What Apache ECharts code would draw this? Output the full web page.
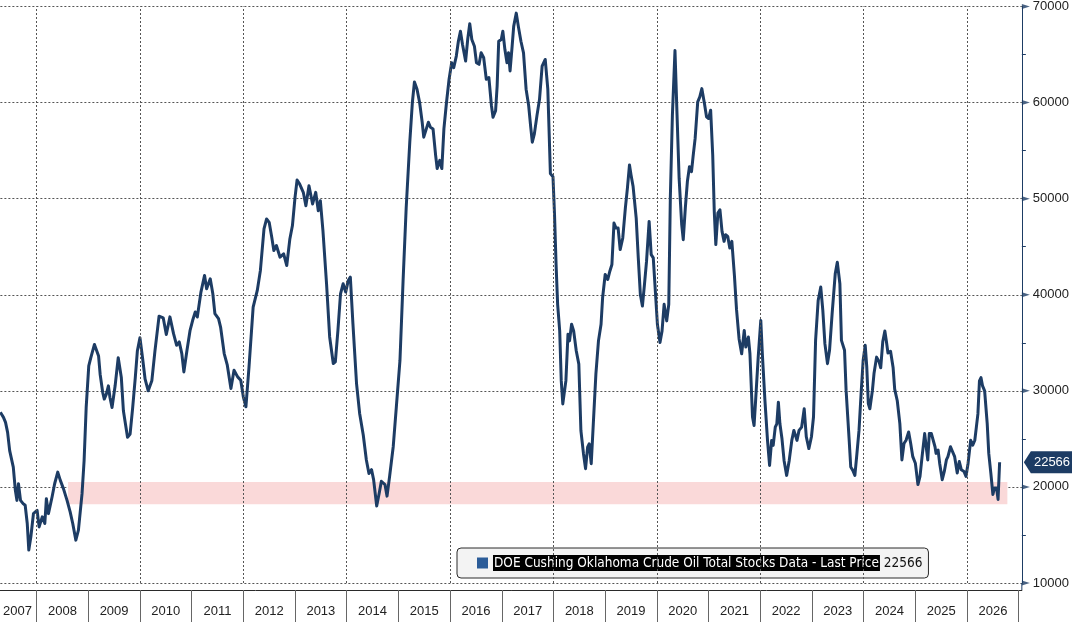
<!DOCTYPE html>
<html>
<head>
<meta charset="utf-8">
<script src="https://cdn.jsdelivr.net/npm/echarts@6/dist/echarts.min.js"></script>
<style>
html,body{margin:0;padding:0;background:#fff;}
#c{width:1072px;height:622px;}
</style>
</head>
<body>
<div id="c"></div>
<script>
// ---- data (decimal year, thousand barrels) ----
const dates = [
2007.30,2007.36,2007.40,2007.44,2007.48,2007.55,2007.59,2007.62,2007.65,2007.69,2007.74,2007.78,2007.82,2007.85,2007.89,2007.94,
2008.01,2008.05,2008.11,2008.16,2008.19,2008.23,2008.30,2008.35,2008.41,2008.46,2008.52,2008.59,2008.65,2008.70,2008.76,2008.81,2008.88,2008.92,2008.96,
2009.01,2009.05,2009.12,2009.20,2009.23,2009.28,2009.31,2009.35,2009.39,2009.42,2009.46,2009.52,2009.58,2009.64,2009.68,2009.71,2009.76,2009.81,2009.86,2009.91,2009.95,
2010.00,2010.05,2010.10,2010.16,2010.23,2010.29,2010.37,2010.45,2010.51,2010.58,2010.65,2010.71,2010.76,2010.81,2010.85,2010.91,2010.97,
2011.02,2011.07,2011.11,2011.18,2011.25,2011.29,2011.36,2011.41,2011.45,2011.52,2011.56,2011.63,2011.69,2011.76,2011.82,2011.89,2011.95,
2012.00,2012.05,2012.11,2012.19,2012.27,2012.33,2012.40,2012.45,2012.50,2012.55,2012.59,2012.64,2012.71,2012.78,2012.84,2012.90,2012.95,
2013.00,2013.04,2013.09,2013.16,2013.21,2013.27,2013.34,2013.40,2013.45,2013.49,2013.54,2013.61,2013.67,2013.74,2013.78,2013.83,2013.88,2013.93,2013.98,
2014.03,2014.07,2014.12,2014.19,2014.25,2014.32,2014.38,2014.43,2014.48,2014.52,2014.58,2014.63,2014.67,2014.74,2014.78,2014.83,2014.90,2014.96,
2015.03,2015.09,2015.15,2015.22,2015.27,2015.31,2015.36,2015.41,2015.46,2015.49,2015.54,2015.58,2015.62,2015.67,2015.72,2015.75,2015.80,2015.84,2015.88,2015.93,2015.98,
2016.03,2016.07,2016.12,2016.16,2016.20,2016.24,2016.27,2016.30,2016.34,2016.38,2016.42,2016.47,2016.51,2016.56,2016.60,2016.65,2016.70,2016.75,2016.80,2016.83,2016.88,2016.91,2016.94,2016.99,
2017.02,2017.06,2017.10,2017.13,2017.16,2017.20,2017.23,2017.28,2017.32,2017.37,2017.42,2017.47,2017.52,2017.56,2017.59,2017.63,2017.68,2017.73,2017.78,2017.84,2017.89,2017.94,2017.99,
2018.02,2018.05,2018.08,2018.12,2018.15,2018.18,2018.21,2018.24,2018.28,2018.31,2018.35,2018.39,2018.44,2018.49,2018.53,2018.58,2018.62,2018.66,2018.69,2018.73,2018.77,2018.82,2018.87,2018.92,2018.95,
2019.00,2019.05,2019.09,2019.13,2019.17,2019.21,2019.25,2019.29,2019.34,2019.39,2019.43,2019.47,2019.50,2019.54,2019.60,2019.64,2019.68,2019.72,2019.76,2019.80,2019.85,2019.89,2019.93,2019.97,
2020.01,2020.06,2020.10,2020.14,2020.19,2020.23,2020.26,2020.30,2020.35,2020.39,2020.43,2020.48,2020.51,2020.55,2020.59,2020.63,2020.67,2020.70,2020.74,2020.79,2020.83,2020.87,2020.92,2020.96,
2021.00,2021.04,2021.08,2021.11,2021.14,2021.18,2021.22,2021.26,2021.30,2021.33,2021.37,2021.41,2021.45,2021.50,2021.54,2021.59,2021.64,2021.69,2021.72,2021.77,2021.80,2021.85,2021.88,2021.91,2021.96,
2022.01,2022.04,2022.09,2022.14,2022.18,2022.22,2022.25,2022.29,2022.32,2022.35,2022.38,2022.42,2022.46,2022.51,2022.56,2022.61,2022.65,2022.71,2022.75,2022.80,2022.85,2022.89,2022.94,2022.99,
2023.03,2023.07,2023.12,2023.17,2023.21,2023.25,2023.30,2023.34,2023.39,2023.45,2023.49,2023.54,2023.57,2023.63,2023.66,2023.72,2023.75,2023.79,2023.83,2023.87,2023.91,2023.95,2023.99,
2024.03,2024.06,2024.09,2024.12,2024.17,2024.20,2024.25,2024.30,2024.33,2024.37,2024.41,2024.44,2024.47,2024.52,2024.57,2024.60,2024.65,2024.70,2024.74,2024.78,2024.82,2024.87,2024.91,2024.95,
2025.00,2025.05,2025.09,2025.13,2025.18,2025.21,2025.24,2025.27,2025.31,2025.34,2025.38,2025.40,2025.44,2025.47,2025.52,2025.56,2025.60,2025.63,2025.68,2025.72,2025.76,2025.81,2025.85,2025.89,2025.94,2025.98,
2026.02,2026.07,2026.11,2026.15,2026.18,2026.21,2026.24,2026.27,2026.30,2026.34,2026.39,2026.42,2026.46,2026.50,2026.53,2026.57,2026.60,2026.63
];
const stocks = [
27760,27240,26720,25680,23780,22060,19640,18600,20330,18600,18260,18090,16190,13430,14810,17220,
17570,15840,16880,16190,18780,17220,18950,20330,21540,20680,19820,18600,17400,16190,14460,15500,19300,22750,28270,
32590,33450,34830,33620,31730,29830,29140,29650,30520,29310,28270,30520,33450,31380,27930,26890,25170,25510,28270,31380,34140,
35520,33450,31210,30000,31040,34140,37770,37600,35870,37700,35950,34740,35090,33880,31970,34220,36300,
37340,38200,37680,40280,42010,40620,41660,40100,38030,37510,36640,33880,32670,30240,32140,31450,31110,
29380,28340,32490,38720,40450,42530,46850,47890,47540,45990,44600,45120,43910,44260,43040,45810,47200,
50140,51940,51520,50660,49270,51350,49450,50660,48750,49790,46680,41140,35610,32840,33010,36300,40100,41140,40280,
41490,41830,36990,30760,27650,25400,22800,21400,21800,20760,18010,19390,20590,20250,19040,21110,24210,28340,
33160,41420,49000,55880,60010,62150,61390,60010,57950,56400,57260,57950,57430,57260,54510,53130,53990,53130,57260,60010,62430,
64150,63630,64840,66380,67420,66040,66210,64320,66560,68210,66560,65870,64150,63980,65180,64660,62430,62600,59670,58470,59150,61740,66380,66560,
67420,65520,64150,65180,63290,65870,67930,69310,67930,66380,65180,61390,59670,57430,55880,56740,58640,60360,63800,64490,61390,52610,52280,
48330,43150,39000,36240,31060,28640,28460,31060,35890,35200,36930,36240,34170,32780,25870,23460,21900,24150,24490,22420,26560,31740,35200,36930,39690,
42110,41590,42450,43150,47460,46940,46940,44700,45910,49020,51090,53510,52470,51260,47980,43840,40040,38830,41070,43490,47630,44180,43840,40390,
36930,35030,36240,39000,37280,39000,50060,58690,65420,58690,52130,47290,45730,49020,51780,53330,52820,54370,56270,60070,60590,61450,59900,58520,
58340,59210,54550,48670,45220,48500,48840,46600,45560,46250,46080,44870,45560,42000,38500,35400,33860,36290,34550,35600,33860,27270,26400,29000,33510,
37330,33860,29000,24840,22240,24840,24320,26220,26570,28820,26570,25010,22760,21200,22760,24840,25880,24840,25880,26220,28130,25220,23990,25220,
27300,35250,39410,40800,38370,34910,32830,34220,38030,42180,43390,41140,35250,34220,30070,24840,22070,21720,21200,23490,25880,29690,33160,
34740,32490,28680,28130,30070,31800,33510,33000,32400,35140,36230,35140,33940,34110,32400,30170,28970,26580,22810,24520,24860,25720,24520,23150,
22470,20240,21100,23150,25550,24180,22810,25550,25550,25550,24180,23490,23830,22470,20750,21610,22810,23150,24180,23660,23150,21440,22640,21780,21610,21100,
22470,24860,24350,24860,26230,27600,31030,31370,30510,30000,26580,23490,21440,19210,19900,19900,18700,22566
];
const seriesName = 'DOE Cushing Oklahoma Crude Oil Total Stocks Data - Last Price';
const lastPrice = 22566;
const yTicks = [10000, 20000, 30000, 40000, 50000, 60000, 70000];
const yearBounds = [2008,2009,2010,2011,2012,2013,2014,2015,2016,2017,2018,2019,2020,2021,2022,2023,2024,2025,2026,2027];
const yearLabels = [2007,2008,2009,2010,2011,2012,2013,2014,2015,2016,2017,2018,2019,2020,2021,2022,2023,2024,2025,2026];
const gridYears = [2008,2010,2012,2014,2016,2018,2020,2022,2024,2026];
const bandValues = [18200, 20500];
const bandYears = [2008.61, 2026.78];

const xMin = 2007.30, xMax = 2027.06;
const NAVY = '#1d3c64';

const lineData = dates.map((d, i) => [d, stocks[i]]);
const labelPos = yearLabels.map(y => Math.max(y + 0.5, xMin + 0.33));

const chart = echarts.init(document.getElementById('c'), null, {renderer: 'canvas'});
const option = {
  animation: false,
  backgroundColor: '#ffffff',
  grid: {left: 0, right: 48, top: 3.5, bottom: 39, containLabel: false},
  xAxis: {
    type: 'value', min: xMin, max: xMax, offset: 7,
    axisLine: {show: true, lineStyle: {color: '#2a2a2a', width: 1}},
    axisTick: {show: true, customValues: yearBounds, length: 32, inside: false,
      lineStyle: {color: '#666', width: 1}},
    axisLabel: {customValues: labelPos, formatter: v => String(Math.floor(v)),
      margin: 15, fontSize: 13, color: '#222', fontFamily: 'Liberation Sans, Arial, sans-serif'},
    splitLine: {show: false}
  },
  yAxis: {
    type: 'value', position: 'right', min: 10000, max: 70000, interval: 10000,
    axisLine: {show: true, lineStyle: {color: NAVY, width: 1}},
    axisTick: {show: false},
    minorTick: {show: true, splitNumber: 2, length: 4, lineStyle: {color: NAVY}},
    axisLabel: {margin: 11, fontSize: 13, color: '#222', formatter: v => String(v),
      fontFamily: 'Liberation Sans, Arial, sans-serif'},
    splitLine: {show: true, lineStyle: {color: '#555', width: 1, type: [2, 2]}}
  },
  legend: {
    show: true, left: 457, top: 548,
    data: [{name: seriesName, icon: 'rect', itemStyle: {color: '#2b5c98'}}],
    backgroundColor: '#f3f3f3', borderColor: '#2a2a2a', borderWidth: 1, borderRadius: 4,
    padding: [7, 6, 7, 20], itemWidth: 11, itemHeight: 11, itemGap: 3,
    selectedMode: false,
    formatter: name => '{hl|' + name + '} {v|' + lastPrice + '}',
    textStyle: {
      fontFamily: 'Liberation Sans Narrow, DejaVu Sans Condensed, Arial Narrow, sans-serif',
      fontSize: 13.5,
      rich: {
        hl: {backgroundColor: '#000', color: '#fff', fontSize: 13.5, padding: [1, 1, 1, 1],
          fontFamily: 'Liberation Sans Narrow, DejaVu Sans Condensed, sans-serif'},
        v: {color: '#111', fontSize: 13.5,
          fontFamily: 'Liberation Sans Narrow, DejaVu Sans Condensed, sans-serif'}
      }
    }
  },
  series: [
    {
      name: 'background', type: 'line', data: [], z: 1, silent: true,
      markArea: {
        silent: true,
        itemStyle: {color: '#fad9d9'},
        data: [[{xAxis: bandYears[0], yAxis: bandValues[0]}, {xAxis: bandYears[1], yAxis: bandValues[1]}]]
      },
      markLine: {
        silent: true, symbol: ['none', 'none'], label: {show: false},
        lineStyle: {color: '#555', width: 1, type: [2, 2]},
        data: gridYears.map(y => ({xAxis: y}))
      }
    },
    {
      name: seriesName, type: 'line', data: lineData, z: 3,
      showSymbol: false, smooth: false,
      lineStyle: {color: NAVY, width: 3, join: 'round'},
      itemStyle: {color: NAVY}
    },
    {
      name: 'axisArrows', type: 'scatter', z: 4, silent: true, clip: false,
      data: yTicks.map(v => [xMax, v]),
      symbol: 'triangle', symbolSize: [5, 8], symbolRotate: -90, symbolOffset: [4, 0],
      itemStyle: {color: NAVY}
    }
  ]
};
chart.setOption(option);

// last price tag + axis line stub + legend expand box
const yLast = chart.convertToPixel({yAxisIndex: 0}, lastPrice);
const xAx = chart.convertToPixel({xAxisIndex: 0}, xMax);
const yBottom = chart.convertToPixel({yAxisIndex: 0}, 10000);
chart.setOption({
  graphic: [
    {type: 'line', shape: {x1: xAx, y1: yBottom, x2: xAx, y2: yBottom + 7}, style: {stroke: NAVY, lineWidth: 1}},
    {type: 'polygon', shape: {points: [[xAx + 2, yLast], [xAx + 9, yLast - 11], [1072, yLast - 11], [1072, yLast + 11], [xAx + 9, yLast + 11]]},
      style: {fill: NAVY}},
    {type: 'text', x: 1052, y: yLast, style: {text: String(lastPrice), fill: '#fff', fontSize: 13,
      fontFamily: 'Liberation Sans, Arial, sans-serif', align: 'center', verticalAlign: 'middle'}},
    {type: 'rect', shape: {x: 464, y: 560, width: 7, height: 7}, style: {fill: '#fff', stroke: '#888', lineWidth: 1}},
    {type: 'rect', shape: {x: 466.5, y: 562.5, width: 2, height: 2}, style: {fill: '#777'}}
  ]
});
</script>
</body>
</html>
